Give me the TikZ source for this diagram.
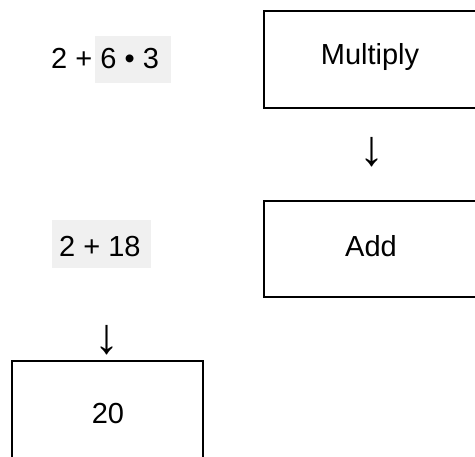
\documentclass[tikz,border=0pt]{standalone}
\usepackage{fontspec}
\setmainfont{Liberation Sans}
\definecolor{hlgray}{HTML}{F0F0F0}
\begin{document}
\begin{tikzpicture}[x=1bp,y=-1bp,
  lbl/.style={font=\fontsize{29bp}{34bp}\selectfont, inner sep=0pt, anchor=base},
  arr/.style={font=\fontsize{50bp}{58bp}\selectfont, inner sep=0pt, anchor=center},
  hl/.style={fill=hlgray, draw=none, inner sep=0pt},
  stepbox/.style={draw=black, line width=2.2bp, fill=none, inner sep=0pt}]
\useasboundingbox (0,0) rectangle (475,457);
\clip (0,0) rectangle (475,457);
% highlights
\node[hl, minimum width=76bp, minimum height=47bp] (hl1) at (133,59.5) {};
\node[hl, minimum width=99bp, minimum height=48bp] (hl2) at (101.5,244) {};
% expressions
\node[lbl, anchor=base west] (expr1) at (51,68.3) {2 + 6 • 3};
\node[lbl, anchor=base west] (expr2) at (59,256.5) {2 + 18};
% boxes
\node[stepbox, minimum width=212bp, minimum height=97bp] (mul) at (370,59.3) {};
\node[stepbox, minimum width=212bp, minimum height=96bp] (add) at (370,248.7) {};
\node[stepbox, minimum width=191bp, minimum height=104bp] (res) at (107.5,413) {};
% box texts
\node[lbl] (multxt) at (370,65) {Multiply};
\node[lbl] (addtxt) at (371,256.7) {Add};
\node[lbl] (restxt) at (108,423) {20};
% arrows
\node[arr] (arr1) at (371.5,152.5) {↓};
\node[arr] (arr2) at (107,340.5) {↓};
\end{tikzpicture}
\end{document}
